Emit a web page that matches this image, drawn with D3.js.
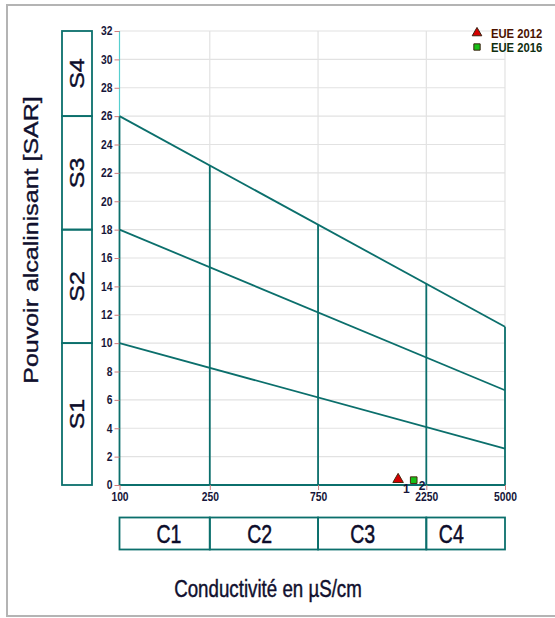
<!DOCTYPE html>
<html>
<head>
<meta charset="utf-8">
<script src="https://cdn.jsdelivr.net/npm/d3@7"></script>
<style>
  html, body { margin: 0; background: #fff; overflow: hidden; }
  svg { display: block; }
  text { font-family: "Liberation Sans", Arial, sans-serif; }
  .tick-label { font-size: 12px; font-weight: bold; fill: #16163a; }
  .box-label { font-size: 25px; fill: #0c0c2a; stroke: #0c0c2a; stroke-width: 0.5px; }
  .title { fill: #10102e; stroke: #10102e; stroke-width: 0.45px; }
</style>
</head>
<body>
<div id="chart"></div>
<script>
// boundary lines (SAR at 100 and at 5000 µS/cm)
var sarAt100 = [10, 18, 26];
var sarAt5000 = [2.57, 6.68, 11.15];

// vertical class dividers and where they meet the top line
var dividerEC = [250, 750, 2250, 5000];
var dividerTop = [22.5, 18.4, 14.2, 11.15];

var xTicks = [100, 250, 750, 2250, 5000];
var yTicks = d3.range(0, 33, 2);

var sClasses = ["S1", "S2", "S3", "S4"];
var sBounds = [0, 10, 18, 26, 32];

var cClasses = ["C1", "C2", "C3", "C4"];
var cBounds = [100, 250, 750, 2250, 5000];
var cLabelEC = [165, 415, 1180, 2900];

var seriesNames = ["EUE 2012", "EUE 2016"];
var seriesEC = [1690, 1980];
var seriesSAR = [0.25, 0.2];
var seriesIds = ["1", "2"];

var svgWidth = 555;
var svgHeight = 618;

var margin = { top: 31, right: 50, bottom: 133, left: 119.5 };
var width = svgWidth - margin.left - margin.right;
var height = svgHeight - margin.top - margin.bottom;

var teal = "#0b6f6c";
var squeeze = 0.78; // the picture is narrow horizontally

var svg = d3.select("#chart")
  .append("svg")
  .attr("width", svgWidth)
  .attr("height", svgHeight);

// outer frame
svg.append("rect")
  .attr("x", 7).attr("y", 5)
  .attr("width", 580).attr("height", 611)
  .attr("fill", "none")
  .attr("stroke", "#b4b4b4")
  .attr("stroke-width", 2);

var chartGroup = svg.append("g")
  .attr("transform", `translate(${margin.left}, ${margin.top})`);

var x = d3.scaleLog().domain([100, 5000]).range([0, width]);
var y = d3.scaleLinear().domain([0, 32]).range([height, 0]);

// grid
chartGroup.selectAll(".hgrid")
  .data(yTicks.slice(1))
  .enter()
  .append("line")
  .attr("x1", 0).attr("x2", width)
  .attr("y1", d => y(d)).attr("y2", d => y(d))
  .attr("stroke", "#e2e2e2")
  .attr("stroke-width", 1.2);

chartGroup.selectAll(".vgrid")
  .data(dividerEC)
  .enter()
  .append("line")
  .attr("x1", d => x(d)).attr("x2", d => x(d))
  .attr("y1", 0).attr("y2", height)
  .attr("stroke", "#e2e2e2")
  .attr("stroke-width", 1.2);

// y axis: light above S3, teal below
chartGroup.append("line")
  .attr("x1", 0).attr("x2", 0)
  .attr("y1", y(32)).attr("y2", y(26))
  .attr("stroke", "#56cfcf")
  .attr("stroke-width", 1.2);

chartGroup.append("line")
  .attr("x1", 0).attr("x2", 0)
  .attr("y1", y(26)).attr("y2", y(0))
  .attr("stroke", teal)
  .attr("stroke-width", 1.8);

chartGroup.append("line")
  .attr("x1", 0).attr("x2", width)
  .attr("y1", y(0)).attr("y2", y(0))
  .attr("stroke", teal)
  .attr("stroke-width", 1.8);

// ticks
var leftAxis = d3.axisLeft(y).tickValues(yTicks).tickSize(5).tickPadding(0);
var yAxisG = chartGroup.append("g").call(leftAxis);
yAxisG.select(".domain").remove();
yAxisG.selectAll("line").attr("stroke", "#cf7c7c");
yAxisG.selectAll("text")
  .attr("class", "tick-label")
  .attr("transform", `translate(-7, 0) scale(${squeeze + 0.08}, 1)`)
  .attr("x", 0);

var bottomAxis = d3.axisBottom(x).tickValues(xTicks).tickFormat(d3.format("d")).tickSize(5).tickPadding(2);
var xAxisG = chartGroup.append("g")
  .attr("transform", `translate(0, ${height})`)
  .call(bottomAxis);
xAxisG.select(".domain").remove();
xAxisG.selectAll("line").attr("stroke", "#cf7c7c");
xAxisG.selectAll("text")
  .attr("class", "tick-label")
  .attr("transform", `scale(${squeeze + 0.08}, 1)`);

// dividers
chartGroup.selectAll(".divider")
  .data(dividerEC)
  .enter()
  .append("line")
  .attr("x1", d => x(d)).attr("x2", d => x(d))
  .attr("y1", y(0))
  .attr("y2", (d, i) => y(dividerTop[i]))
  .attr("stroke", teal)
  .attr("stroke-width", 1.8);

// S boundary lines
chartGroup.selectAll(".bound")
  .data(sarAt100)
  .enter()
  .append("line")
  .attr("x1", x(100)).attr("y1", d => y(d))
  .attr("x2", x(5000)).attr("y2", (d, i) => y(sarAt5000[i]))
  .attr("stroke", teal)
  .attr("stroke-width", 1.8);

// S boxes on the left
var sBoxX = -57.5, sBoxW = 30;
sClasses.forEach(function(s, i) {
  chartGroup.append("rect")
    .attr("x", sBoxX)
    .attr("y", y(sBounds[i + 1]))
    .attr("width", sBoxW)
    .attr("height", y(sBounds[i]) - y(sBounds[i + 1]))
    .attr("fill", "none")
    .attr("stroke", teal)
    .attr("stroke-width", 1.8);

  var cy = y((sBounds[i] + sBounds[i + 1]) / 2);
  chartGroup.append("text")
    .attr("class", "box-label")
    .attr("transform", `translate(${sBoxX + sBoxW / 2 + 7}, ${cy}) scale(${squeeze}, 1) rotate(-90)`)
    .attr("text-anchor", "middle")
    .text(s);
});

// C boxes below
var cBoxY = height + 32.5, cBoxH = 32;
cClasses.forEach(function(c, i) {
  chartGroup.append("rect")
    .attr("x", x(cBounds[i]))
    .attr("y", cBoxY)
    .attr("width", x(cBounds[i + 1]) - x(cBounds[i]))
    .attr("height", cBoxH)
    .attr("fill", "none")
    .attr("stroke", teal)
    .attr("stroke-width", 1.8);

  chartGroup.append("text")
    .attr("class", "box-label")
    .attr("transform", `translate(${x(cLabelEC[i])}, ${cBoxY + cBoxH / 2 + 9}) scale(${squeeze}, 1)`)
    .attr("text-anchor", "middle")
    .text(c);
});

// samples
var sym = [d3.symbolTriangle, d3.symbolSquare];
var fills = ["#d40000", "#16c016"];
var legendText = ["#4a1200", "#0f2e0f"];

chartGroup.selectAll(".pt")
  .data(seriesEC)
  .enter()
  .append("path")
  .attr("d", (d, i) => d3.symbol().type(sym[i]).size(i == 0 ? 48 : 44)())
  .attr("transform", (d, i) => `translate(${x(d)}, ${y(seriesSAR[i]) - 2})`)
  .attr("fill", (d, i) => fills[i])
  .attr("stroke", "#4a2a10")
  .attr("stroke-width", 1);

chartGroup.selectAll(".ptlabel")
  .data(seriesEC)
  .enter()
  .append("text")
  .attr("x", d => x(d) + 5)
  .attr("y", (d, i) => y(seriesSAR[i]) + (i == 0 ? 12 : 8))
  .attr("font-size", "12px")
  .attr("font-weight", "bold")
  .attr("fill", "#16163a")
  .text((d, i) => seriesIds[i]);

// legend
var legend = svg.append("g").attr("transform", "translate(477, 33)");
seriesNames.forEach(function(name, i) {
  legend.append("path")
    .attr("d", d3.symbol().type(sym[i]).size(40)())
    .attr("transform", `translate(0, ${i * 14})`)
    .attr("fill", fills[i])
    .attr("stroke", "#3a2010")
    .attr("stroke-width", 1);
  legend.append("text")
    .attr("transform", `translate(14, ${i * 14 + 4.5}) scale(0.9, 1)`)
    .attr("font-size", "12.5px")
    .attr("font-weight", "bold")
    .attr("fill", legendText[i])
    .text(name);
});

// axis titles
svg.append("text")
  .attr("class", "title")
  .attr("transform", `translate(38, 240) scale(${squeeze}, 1) rotate(-90)`)
  .attr("text-anchor", "middle")
  .attr("font-size", "25px")
  .text("Pouvoir alcalinisant [SAR]");

svg.append("text")
  .attr("class", "title")
  .attr("transform", `translate(268, 597) scale(${squeeze}, 1)`)
  .attr("text-anchor", "middle")
  .attr("font-size", "24px")
  .text("Conductivité en µS/cm");
</script>
</body>
</html>
